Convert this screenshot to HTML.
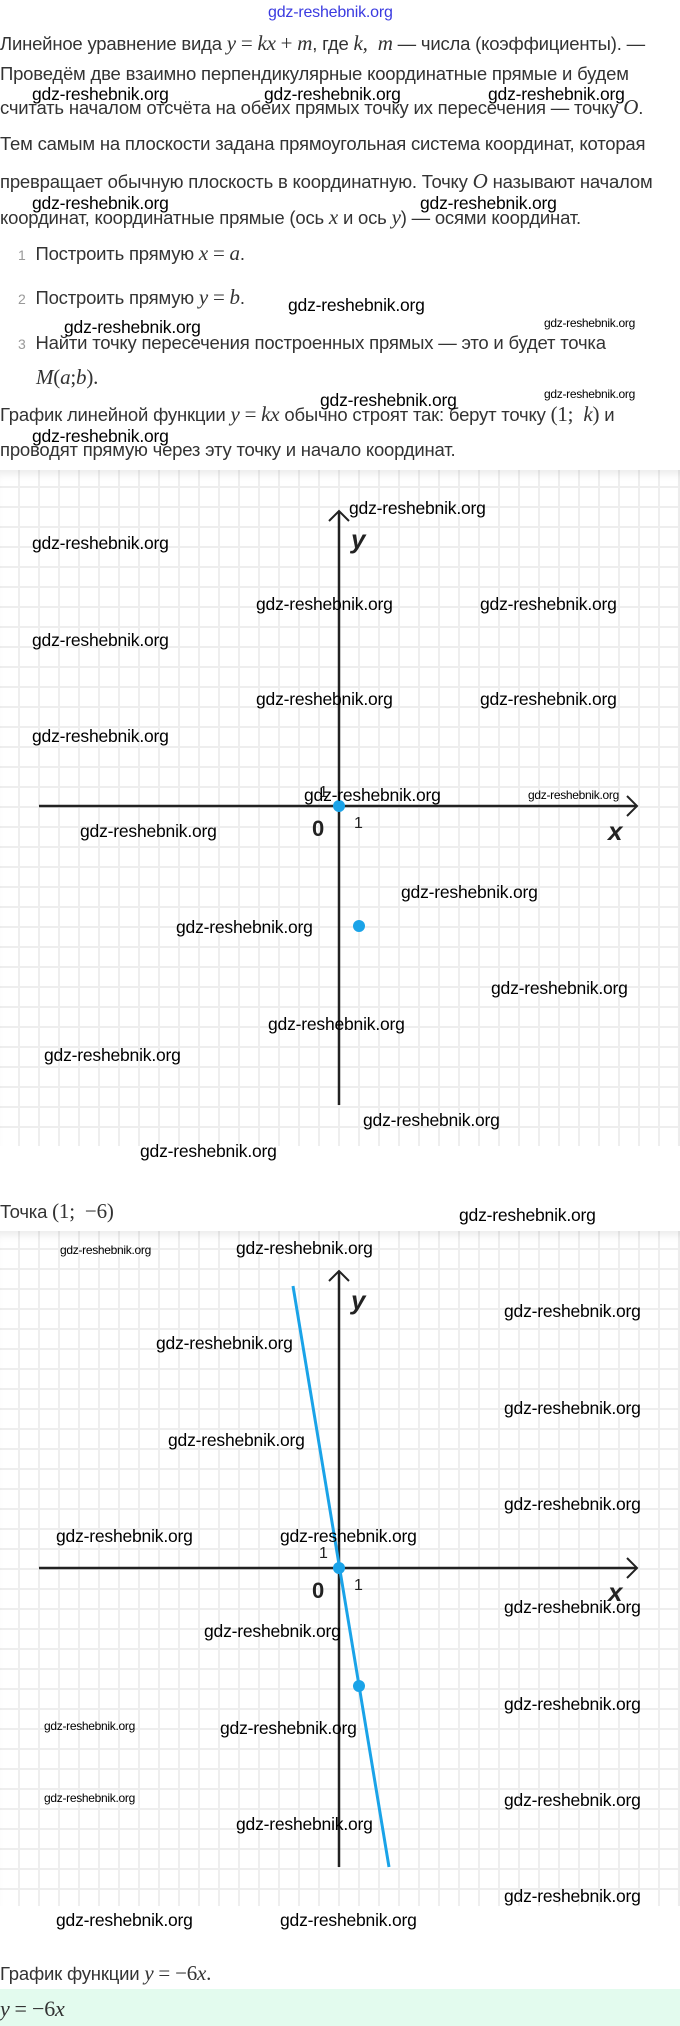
<!DOCTYPE html>
<html><head><meta charset="utf-8">
<style>
*{margin:0;padding:0;box-sizing:border-box}
body{width:680px;height:2026px;position:relative;background:#fff;font-family:"Liberation Sans",sans-serif;color:#333;overflow:hidden}
.t{position:absolute;left:0;font-size:18.5px;line-height:22px;white-space:nowrap;letter-spacing:-0.2px}
.m{font-family:"Liberation Serif",serif;font-style:italic;font-size:21px}
.r{font-family:"Liberation Serif",serif;font-size:21px}
.w{position:absolute;font-family:"Liberation Sans",sans-serif;font-size:17.5px;line-height:20px;color:#000;white-space:nowrap;letter-spacing:-0.2px}
.s{font-size:12px;line-height:14px;letter-spacing:-0.3px}
.n{color:#999}
.chart{position:absolute;left:0;width:680px;background-color:#fff;
background-image:linear-gradient(to right,#eeeeee 2px,transparent 2px),linear-gradient(to bottom,#eeeeee 2px,transparent 2px);
background-size:20px 20px}
</style></head><body>
<div class="w" style="left:268px;top:3px;color:#3a3ae0;font-size:16px">gdz-reshebnik.org</div>

<div class="t" style="top:32px">Линейное уравнение вида <span class="m">y</span> <span class="r">=</span> <span class="m">kx</span> <span class="r">+</span> <span class="m">m</span>, где <span class="m">k,&nbsp; m</span> — числа (коэффициенты). —</div>
<div class="t" style="top:63px">Проведём две взаимно перпендикулярные координатные прямые и будем</div>
<div class="t" style="top:96px">считать началом отсчёта на обеих прямых точку их пересечения — точку <span class="m">O</span>.</div>
<div class="t" style="top:133px">Тем самым на плоскости задана прямоугольная система координат, которая</div>
<div class="t" style="top:170px">превращает обычную плоскость в координатную. Точку <span class="m">O</span> называют началом</div>
<div class="t" style="top:206px">координат, координатные прямые (ось <span class="m">x</span> и ось <span class="m">y</span>) — осями координат.</div>
<div class="t" style="top:242px;left:18px"><span class="n" style="font-size:14px">1</span>&nbsp; Построить прямую <span class="m">x</span> <span class="r">=</span> <span class="m">a</span>.</div>
<div class="t" style="top:286px;left:18px"><span class="n" style="font-size:14px">2</span>&nbsp; Построить прямую <span class="m">y</span> <span class="r">=</span> <span class="m">b</span>.</div>
<div class="t" style="top:332px;left:18px"><span class="n" style="font-size:14px">3</span>&nbsp; Найти точку пересечения построенных прямых — это и будет точка</div>
<div class="t" style="top:366px;left:36px"><span class="m">M</span><span class="r">(</span><span class="m">a</span><span class="r">;</span><span class="m">b</span><span class="r">).</span></div>
<div class="t" style="top:403px">График линейной функции <span class="m">y</span> <span class="r">=</span> <span class="m">kx</span> обычно строят так: берут точку <span class="r">(1;&nbsp; </span><span class="m">k</span><span class="r">)</span> и</div>
<div class="t" style="top:439px">проводят прямую через эту точку и начало координат.</div>

<div class="w" style="left:32px;top:84px">gdz-reshebnik.org</div>
<div class="w" style="left:264px;top:84px">gdz-reshebnik.org</div>
<div class="w" style="left:488px;top:84px">gdz-reshebnik.org</div>
<div class="w" style="left:32px;top:193px">gdz-reshebnik.org</div>
<div class="w" style="left:420px;top:193px">gdz-reshebnik.org</div>
<div class="w" style="left:288px;top:295px">gdz-reshebnik.org</div>
<div class="w" style="left:64px;top:317px">gdz-reshebnik.org</div>
<div class="w s" style="left:544px;top:316px">gdz-reshebnik.org</div>
<div class="w" style="left:320px;top:390px">gdz-reshebnik.org</div>
<div class="w s" style="left:544px;top:387px">gdz-reshebnik.org</div>
<div class="w" style="left:32px;top:426px">gdz-reshebnik.org</div>

<!-- Chart 1 -->
<div class="chart" style="top:470px;height:676px;background-position:18px 16px;box-shadow:inset 0 8px 8px -4px rgba(0,0,0,0.08)"></div>
<svg style="position:absolute;left:0;top:470px" width="680" height="676">
<line x1="39" y1="336" x2="637" y2="336" stroke="#222" stroke-width="2.5"/>
<polyline points="627,326 637,336 627,346" fill="none" stroke="#222" stroke-width="2"/>
<line x1="339" y1="41" x2="339" y2="635" stroke="#222" stroke-width="2.5"/>
<polyline points="329,51 339,41 349,51" fill="none" stroke="#222" stroke-width="2"/>
<circle cx="339" cy="336" r="6" fill="#1aa3e8"/>
<circle cx="359" cy="456" r="6" fill="#1aa3e8"/>
<text x="351" y="78" font-family="Liberation Sans" font-style="italic" font-weight="bold" font-size="26" fill="#222">y</text>
<text x="608" y="370" font-family="Liberation Sans" font-style="italic" font-weight="bold" font-size="26" fill="#222">x</text>
<text x="312" y="366" font-family="Liberation Sans" font-weight="bold" font-size="22" fill="#222">0</text>
<text x="354" y="358" font-family="Liberation Sans" font-size="16" fill="#222">1</text>
<text x="319" y="327" font-family="Liberation Sans" font-size="16" fill="#222">1</text>
</svg>
<div class="w" style="left:349px;top:498px">gdz-reshebnik.org</div>
<div class="w" style="left:32px;top:533px">gdz-reshebnik.org</div>
<div class="w" style="left:256px;top:594px">gdz-reshebnik.org</div>
<div class="w" style="left:480px;top:594px">gdz-reshebnik.org</div>
<div class="w" style="left:32px;top:630px">gdz-reshebnik.org</div>
<div class="w" style="left:256px;top:689px">gdz-reshebnik.org</div>
<div class="w" style="left:480px;top:689px">gdz-reshebnik.org</div>
<div class="w" style="left:32px;top:726px">gdz-reshebnik.org</div>
<div class="w" style="left:304px;top:785px">gdz-reshebnik.org</div>
<div class="w s" style="left:528px;top:788px">gdz-reshebnik.org</div>
<div class="w" style="left:80px;top:821px">gdz-reshebnik.org</div>
<div class="w" style="left:401px;top:882px">gdz-reshebnik.org</div>
<div class="w" style="left:176px;top:917px">gdz-reshebnik.org</div>
<div class="w" style="left:491px;top:978px">gdz-reshebnik.org</div>
<div class="w" style="left:268px;top:1014px">gdz-reshebnik.org</div>
<div class="w" style="left:44px;top:1045px">gdz-reshebnik.org</div>
<div class="w" style="left:363px;top:1110px">gdz-reshebnik.org</div>
<div class="w" style="left:140px;top:1141px">gdz-reshebnik.org</div>

<div class="t" style="top:1200px">Точка <span class="r">(1;&nbsp; −6)</span></div>
<div class="w" style="left:459px;top:1205px">gdz-reshebnik.org</div>

<!-- Chart 2 -->
<div class="chart" style="top:1231px;height:675px;background-position:18px 17px;box-shadow:inset 0 8px 8px -4px rgba(0,0,0,0.08)"></div>
<svg style="position:absolute;left:0;top:1231px" width="680" height="675">
<line x1="39" y1="337" x2="637" y2="337" stroke="#222" stroke-width="2.5"/>
<polyline points="627,327 637,337 627,347" fill="none" stroke="#222" stroke-width="2"/>
<line x1="339" y1="40" x2="339" y2="636" stroke="#222" stroke-width="2.5"/>
<polyline points="329,50 339,40 349,50" fill="none" stroke="#222" stroke-width="2"/>
<line x1="293" y1="55" x2="389" y2="636" stroke="#1aa3e8" stroke-width="3"/>
<circle cx="339" cy="337" r="6" fill="#1aa3e8"/>
<circle cx="359" cy="455" r="6" fill="#1aa3e8"/>
<text x="351" y="78" font-family="Liberation Sans" font-style="italic" font-weight="bold" font-size="26" fill="#222">y</text>
<text x="608" y="370" font-family="Liberation Sans" font-style="italic" font-weight="bold" font-size="26" fill="#222">x</text>
<text x="312" y="367" font-family="Liberation Sans" font-weight="bold" font-size="22" fill="#222">0</text>
<text x="354" y="359" font-family="Liberation Sans" font-size="16" fill="#222">1</text>
<text x="319" y="327" font-family="Liberation Sans" font-size="16" fill="#222">1</text>
</svg>
<div class="w s" style="left:60px;top:1243px">gdz-reshebnik.org</div>
<div class="w" style="left:236px;top:1238px">gdz-reshebnik.org</div>
<div class="w" style="left:504px;top:1301px">gdz-reshebnik.org</div>
<div class="w" style="left:156px;top:1333px">gdz-reshebnik.org</div>
<div class="w" style="left:504px;top:1398px">gdz-reshebnik.org</div>
<div class="w" style="left:168px;top:1430px">gdz-reshebnik.org</div>
<div class="w" style="left:504px;top:1494px">gdz-reshebnik.org</div>
<div class="w" style="left:56px;top:1526px">gdz-reshebnik.org</div>
<div class="w" style="left:280px;top:1526px">gdz-reshebnik.org</div>
<div class="w" style="left:504px;top:1597px">gdz-reshebnik.org</div>
<div class="w" style="left:204px;top:1621px">gdz-reshebnik.org</div>
<div class="w" style="left:504px;top:1694px">gdz-reshebnik.org</div>
<div class="w s" style="left:44px;top:1719px">gdz-reshebnik.org</div>
<div class="w" style="left:220px;top:1718px">gdz-reshebnik.org</div>
<div class="w" style="left:504px;top:1790px">gdz-reshebnik.org</div>
<div class="w s" style="left:44px;top:1791px">gdz-reshebnik.org</div>
<div class="w" style="left:236px;top:1814px">gdz-reshebnik.org</div>
<div class="w" style="left:504px;top:1886px">gdz-reshebnik.org</div>
<div class="w" style="left:56px;top:1910px">gdz-reshebnik.org</div>
<div class="w" style="left:280px;top:1910px">gdz-reshebnik.org</div>

<div class="t" style="top:1962px">График функции <span class="m">y</span> <span class="r">= −6</span><span class="m">x</span><span class="r">.</span></div>
<div style="position:absolute;left:0;top:1989px;width:680px;height:37px;background:#e3fbee"></div>
<div class="t" style="top:1998px"><span class="m" style="font-size:22px">y</span> <span class="r" style="font-size:22px">= −6</span><span class="m" style="font-size:22px">x</span></div>
</body></html>
